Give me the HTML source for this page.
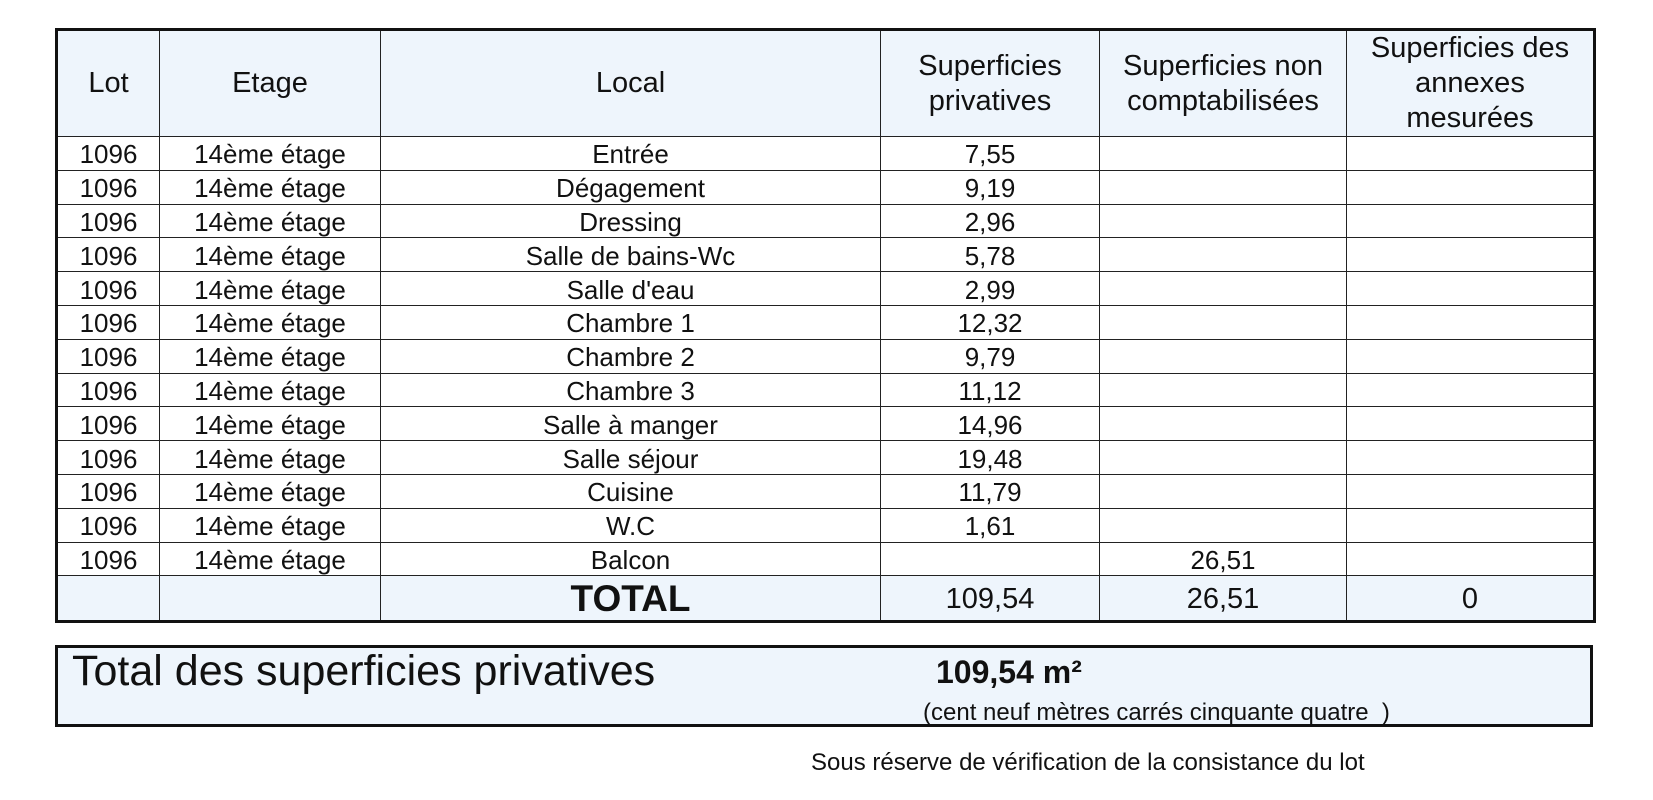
<!DOCTYPE html>
<html><head><meta charset="utf-8"><style>
body{margin:0;width:1653px;height:800px;background:#fff;position:relative;overflow:hidden;font-family:"Liberation Sans",Arial,sans-serif;color:#111}
.t{position:absolute;left:55px;top:28px;width:1538px;border-collapse:collapse;border:3px solid #111;table-layout:fixed}
.t td{border:1.5px solid #222;text-align:center;padding:0;font-size:26px;height:33.8px;line-height:30px;overflow:hidden;white-space:nowrap;padding-top:2px;box-sizing:border-box}
.t tr.h td{background:#eef5fc;height:106px;font-size:29px;line-height:35px;white-space:normal;padding-top:0}
.t tr.tot td{background:#eef5fc;height:46px;font-size:29px}
.box{position:absolute;left:55px;top:645px;width:1532px;height:76px;border:3px solid #111;background:#eef5fc}
.a{position:absolute;white-space:nowrap}
</style></head><body>
<table class="t">
<colgroup><col style="width:103px"><col style="width:221px"><col style="width:500px"><col style="width:219px"><col style="width:247px"><col style="width:248px"></colgroup>
<tr class="h"><td>Lot</td><td>Etage</td><td>Local</td><td>Superficies<br>privatives</td><td>Superficies non<br>comptabilisées</td><td>Superficies des<br>annexes<br>mesurées</td></tr>
<tr><td>1096</td><td>14ème étage</td><td>Entrée</td><td>7,55</td><td></td><td></td></tr>
<tr><td>1096</td><td>14ème étage</td><td>Dégagement</td><td>9,19</td><td></td><td></td></tr>
<tr><td>1096</td><td>14ème étage</td><td>Dressing</td><td>2,96</td><td></td><td></td></tr>
<tr><td>1096</td><td>14ème étage</td><td>Salle de bains-Wc</td><td>5,78</td><td></td><td></td></tr>
<tr><td>1096</td><td>14ème étage</td><td>Salle d'eau</td><td>2,99</td><td></td><td></td></tr>
<tr><td>1096</td><td>14ème étage</td><td>Chambre 1</td><td>12,32</td><td></td><td></td></tr>
<tr><td>1096</td><td>14ème étage</td><td>Chambre 2</td><td>9,79</td><td></td><td></td></tr>
<tr><td>1096</td><td>14ème étage</td><td>Chambre 3</td><td>11,12</td><td></td><td></td></tr>
<tr><td>1096</td><td>14ème étage</td><td>Salle à manger</td><td>14,96</td><td></td><td></td></tr>
<tr><td>1096</td><td>14ème étage</td><td>Salle séjour</td><td>19,48</td><td></td><td></td></tr>
<tr><td>1096</td><td>14ème étage</td><td>Cuisine</td><td>11,79</td><td></td><td></td></tr>
<tr><td>1096</td><td>14ème étage</td><td>W.C</td><td>1,61</td><td></td><td></td></tr>
<tr><td>1096</td><td>14ème étage</td><td>Balcon</td><td></td><td>26,51</td><td></td></tr>
<tr class="tot"><td></td><td></td><td style="font-weight:bold;font-size:37px">TOTAL</td><td>109,54</td><td>26,51</td><td>0</td></tr>
</table>
<div class="box"></div>
<div class="a" style="left:72px;top:647px;font-size:43px">Total des superficies privatives</div>
<div class="a" style="left:936px;top:654px;font-size:32px;font-weight:bold">109,54 m²</div>
<div class="a" style="left:923px;top:699px;font-size:24px">(cent neuf mètres carrés cinquante quatre &nbsp;)</div>
<div class="a" style="left:811px;top:749px;font-size:24px">Sous réserve de vérification de la consistance du lot</div>
</body></html>
